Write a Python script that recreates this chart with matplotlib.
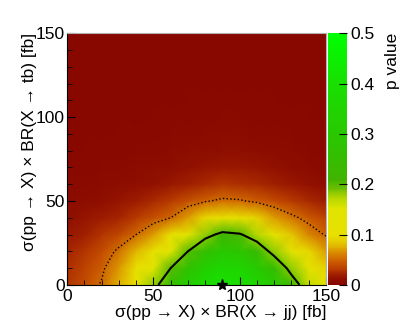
import numpy as np
import matplotlib
matplotlib.use("Agg")
import matplotlib.pyplot as plt
from matplotlib.colors import LinearSegmentedColormap

plt.rcParams['font.family'] = ['Liberation Sans', 'DejaVu Sans']

# grid of the scan (fb)
x_jj = [0, 10, 20, 30, 40, 50, 60, 70, 80, 90, 100, 110, 120, 130, 140, 150]
y_tb = [0, 10, 20, 30, 40, 50, 60, 70, 80, 90, 100, 110, 120, 130, 140, 150]

# p value, one row per y_tb value
p_row_0 = [0.028, 0.038, 0.052, 0.075, 0.11, 0.18, 0.25, 0.32, 0.38, 0.40, 0.39, 0.35, 0.30, 0.23, 0.165, 0.115]
p_row_10 = [0.026, 0.034, 0.046, 0.068, 0.10, 0.15, 0.20, 0.27, 0.33, 0.36, 0.355, 0.31, 0.25, 0.18, 0.13, 0.09]
p_row_20 = [0.022, 0.029, 0.039, 0.054, 0.08, 0.11, 0.15, 0.20, 0.26, 0.30, 0.29, 0.24, 0.18, 0.13, 0.095, 0.07]
p_row_30 = [0.016, 0.021, 0.028, 0.037, 0.05, 0.07, 0.10, 0.135, 0.18, 0.215, 0.205, 0.17, 0.12, 0.085, 0.062, 0.048]
p_row_40 = [0.011, 0.014, 0.018, 0.023, 0.03, 0.04, 0.05, 0.07, 0.095, 0.11, 0.105, 0.09, 0.07, 0.055, 0.043, 0.034]
p_row_50 = [0.007, 0.009, 0.011, 0.014, 0.018, 0.024, 0.031, 0.04, 0.048, 0.054, 0.052, 0.046, 0.038, 0.03, 0.024, 0.019]
p_row_60 = [0.004, 0.005, 0.0065, 0.008, 0.01, 0.013, 0.017, 0.021, 0.025, 0.028, 0.027, 0.024, 0.02, 0.016, 0.012, 0.009]
p_row_70 = [0.0025, 0.003, 0.004, 0.005, 0.0065, 0.008, 0.010, 0.013, 0.015, 0.016, 0.016, 0.014, 0.012, 0.0095, 0.0075, 0.0055]
p_row_80 = [0.0015, 0.002, 0.0025, 0.003, 0.004, 0.005, 0.0065, 0.008, 0.0095, 0.010, 0.010, 0.009, 0.0075, 0.006, 0.0048, 0.0036]
p_row_90 = [0.001, 0.0012, 0.0015, 0.002, 0.0026, 0.0033, 0.0042, 0.0052, 0.006, 0.0065, 0.0064, 0.0058, 0.0049, 0.004, 0.0031, 0.0024]
p_row_100 = [0.0006, 0.0008, 0.001, 0.0013, 0.0017, 0.0021, 0.0027, 0.0033, 0.0039, 0.0042, 0.0041, 0.0037, 0.0032, 0.0026, 0.002, 0.0015]
p_row_110 = [0.0004, 0.0005, 0.0006, 0.0008, 0.0011, 0.0014, 0.0018, 0.0022, 0.0025, 0.0027, 0.0027, 0.0024, 0.0021, 0.0017, 0.0013, 0.001]
p_row_120 = [0.0003, 0.0003, 0.0004, 0.0005, 0.0007, 0.0009, 0.0011, 0.0014, 0.0016, 0.0017, 0.0017, 0.0015, 0.0013, 0.0011, 0.0008, 0.0006]
p_row_130 = [0.0002, 0.0002, 0.0003, 0.0003, 0.0004, 0.0006, 0.0007, 0.0009, 0.001, 0.0011, 0.0011, 0.001, 0.0008, 0.0007, 0.0005, 0.0004]
p_row_140 = [0.0001, 0.0001, 0.0002, 0.0002, 0.0003, 0.0004, 0.0005, 0.0006, 0.0007, 0.0007, 0.0007, 0.0006, 0.0005, 0.0004, 0.0003, 0.0003]
p_row_150 = [0.0001, 0.0001, 0.0001, 0.0001, 0.0002, 0.0002, 0.0003, 0.0004, 0.0004, 0.0005, 0.0005, 0.0004, 0.0003, 0.0003, 0.0002, 0.0002]

# best fit point and contour levels
best_x = [90]
best_y = [0]
level_outer = [0.05]
level_inner = [0.2]

cbar_ticks = [0, 0.1, 0.2, 0.3, 0.4, 0.5]
cbar_labels = ["0", "0.1", "0.2", "0.3", "0.4", "0.5"]
axis_ticks = [0, 50, 100, 150]

P = np.array([p_row_0, p_row_10, p_row_20, p_row_30, p_row_40, p_row_50, p_row_60, p_row_70,
              p_row_80, p_row_90, p_row_100, p_row_110, p_row_120, p_row_130, p_row_140, p_row_150])

# palette: dark red -> orange -> yellow -> green, positions as fraction of 0.5
cmap = LinearSegmentedColormap.from_list("pval", [
    (0.00, "#880800"),
    (0.02, "#8e0e00"),
    (0.04, "#a02000"),
    (0.06, "#b83c00"),
    (0.09, "#cc5c00"),
    (0.12, "#d88400"),
    (0.15, "#e0b000"),
    (0.18, "#e6d400"),
    (0.20, "#e8e000"),
    (0.30, "#e0e400"),
    (0.34, "#b8d800"),
    (0.38, "#70c000"),
    (0.42, "#40b400"),
    (0.60, "#28c800"),
    (0.80, "#18e000"),
    (1.00, "#00ff00"),
])

fig = plt.figure(figsize=(4.07, 3.32), dpi=100)
ax = fig.add_axes([0.165, 0.142, 0.636, 0.758])
cax = fig.add_axes([0.806, 0.142, 0.047, 0.758])

mesh = ax.pcolormesh(x_jj, y_tb, P, shading='gouraud', cmap=cmap, vmin=0, vmax=0.5)
ax.contour(x_jj, y_tb, P, levels=level_outer, colors='k', linestyles=':', linewidths=1.0)
ax.contour(x_jj, y_tb, P, levels=level_inner, colors='k', linestyles='-', linewidths=1.5)
ax.plot(best_x, best_y, marker='*', color='k', markersize=8, linestyle='none', clip_on=False, zorder=5)

ax.set_xlim(0, 150)
ax.set_ylim(0, 150)
ax.set_xticks(axis_ticks)
ax.set_yticks(axis_ticks)
ax.set_xticks(np.arange(0, 151, 10), minor=True)
ax.set_yticks(np.arange(0, 151, 10), minor=True)
ax.tick_params(which='both', direction='in', top=False, right=False, labelsize=12.5)
ax.tick_params(which='major', length=6)
ax.tick_params(which='minor', length=3.5)
ax.tick_params(axis='x', pad=3)
ax.tick_params(axis='y', pad=1.5)
for side in ['top', 'right']:
    ax.spines[side].set_color('#b0b0b0')

ax.set_xlabel("σ(pp → X) × BR(X → jj) [fb]", fontsize=12.5, loc='right', labelpad=1)
ax.set_ylabel("σ(pp → X) × BR(X → tb) [fb]", fontsize=12.5, loc='top', labelpad=-1)

cb = fig.colorbar(mesh, cax=cax)
cb.set_ticks(cbar_ticks)
cb.set_ticklabels(cbar_labels)
cb.outline.set_visible(False)
cax.tick_params(direction='in', length=6, labelsize=12.5, pad=2)
cb.set_label("p value", fontsize=12.5, loc='top', labelpad=8)

fig.savefig("out.png", dpi=100)
